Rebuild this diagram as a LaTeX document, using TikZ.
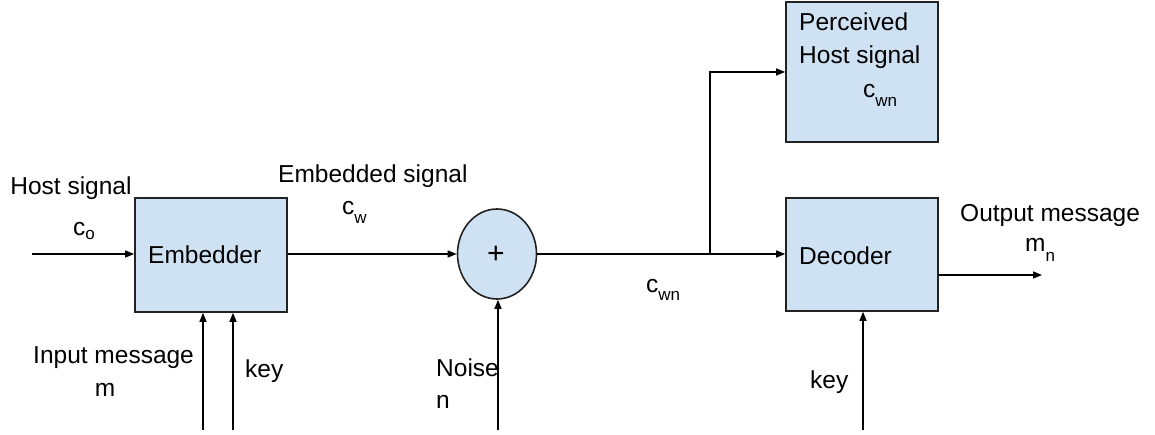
\documentclass[tikz,border=0pt]{standalone}
\usepackage{fontspec}
\setmainfont{Liberation Sans}
\usetikzlibrary{arrows.meta,shapes.geometric}
\definecolor{boxfill}{HTML}{CFE2F3}
\definecolor{boxline}{HTML}{222222}
\newcommand\lsub[2][8pt]{\raisebox{-#1}{\fontsize{17}{17}\selectfont #2}}
\tikzset{
  blk/.style={draw=boxline, line width=1.6pt, fill=boxfill, rectangle, inner sep=0pt},
  sumnode/.style={draw=boxline, line width=1.6pt, fill=boxfill, ellipse, inner sep=0pt, minimum width=79pt, minimum height=90pt},
  lbl/.style={inner sep=0pt, font=\fontsize{24.5}{28}\selectfont},
  conn/.style={line width=1.4pt, -{Triangle[length=9pt,width=7pt]}}
}
\begin{document}
\begin{tikzpicture}[x=1pt,y=-1pt]
\useasboundingbox (0,0) rectangle (1155,435);
% blocks
\node[blk, minimum width=152pt, minimum height=114pt] (emb) at (211,255) {};
\node[blk, minimum width=152pt, minimum height=140pt] (perc) at (862,72) {};
\node[blk, minimum width=152pt, minimum height=113pt] (dec) at (862,254.5) {};
\node[sumnode] (sum) at (497,254) {};
\node[lbl, font=\fontsize{30}{32}\selectfont] (plus) at (496,255) {+};
% block labels
\node[lbl, anchor=base west] (embt) at (148,264) {Embedder};
\node[lbl, anchor=base west] (dect) at (799,265) {Decoder};
\node[lbl, anchor=base west] (perct1) at (799,31) {Perceived};
\node[lbl, anchor=base west] (perct2) at (799,64) {Host signal};
\node[lbl, anchor=base west] (perct3) at (863,98) {c\lsub[9pt]{wn}};
% signal labels
\node[lbl, anchor=base] (hostt) at (71,195) {Host signal};
\node[lbl, anchor=base west] (co) at (73,236) {c\lsub[4pt]{o}};
\node[lbl, anchor=base west] (embs) at (278,183) {Embedded signal};
\node[lbl, anchor=base west] (cw) at (342,215) {c\lsub[9pt]{w}};
\node[lbl, anchor=base west] (inmsg) at (33,363) {Input message};
\node[lbl, anchor=base] (mt) at (105,396) {m};
\node[lbl, anchor=base west] (key1) at (245,377) {key};
\node[lbl, anchor=base west] (noise) at (436,376) {Noise};
\node[lbl, anchor=base west] (nt) at (436,408) {n};
\node[lbl, anchor=base west] (cwn) at (646,292) {c\lsub[9pt]{wn}};
\node[lbl, anchor=base west] (outmsg) at (960,222) {Output message};
\node[lbl, anchor=base west] (mn) at (1025,252) {m\lsub[10pt]{n}};
\node[lbl, anchor=base west] (key2) at (810,388) {key};
% free ends
\coordinate (hin) at (32,254);
\coordinate (min) at (203,430);
\coordinate (kin) at (233,430);
\coordinate (nin) at (498,430);
\coordinate (k2in) at (863,430);
\coordinate (mout) at (1042,275);
\coordinate (br) at (710,255);
% connectors
\draw[conn] (hin) -- (hin -| emb.west);
\draw[conn] (emb.east |- sum) -- (sum.west);
\draw[conn] (sum.east) -- (dec.west |- sum);
\draw[conn] (br) -- (br |- perc.west) -- (perc.west);
\draw[conn] (min) -- (min |- emb.south);
\draw[conn] (kin) -- (kin |- emb.south);
\draw[conn] (nin) -- (nin |- sum.south);
\draw[conn] (k2in) -- (k2in |- dec.south);
\draw[conn] (dec.east |- mout) -- (mout);
\end{tikzpicture}
\end{document}
